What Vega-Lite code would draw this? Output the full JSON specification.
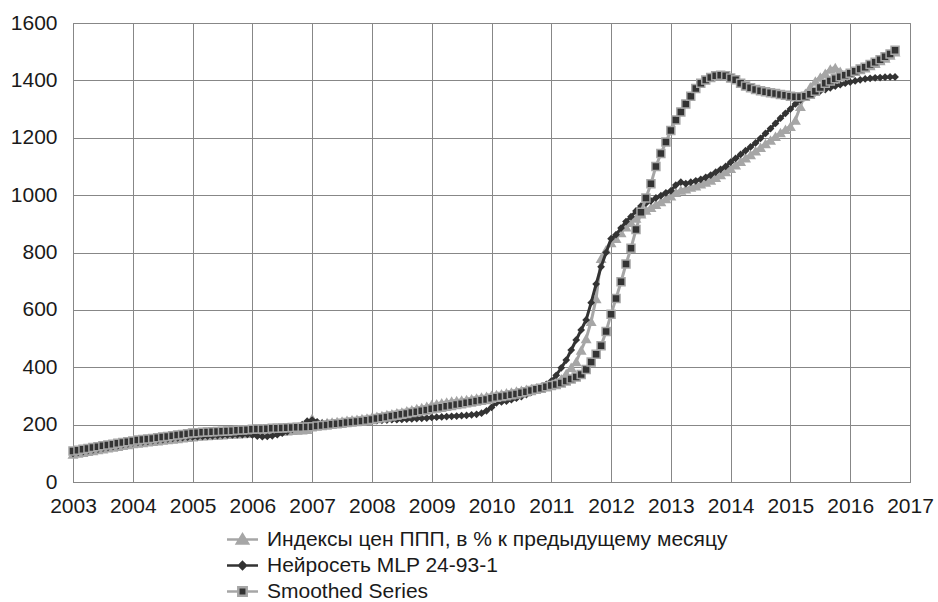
{
"$schema": "https://vega.github.io/schema/vega-lite/v6.json",
"width": 837, "height": 459,
"autosize": {"type": "none"},
"padding": {"left": 73, "top": 23, "right": 28, "bottom": 120},
"background": "white",
"config": {
 "font": "Liberation Sans",
 "view": {"stroke": "#878787", "strokeWidth": 1},
 "axis": {"labelFont": "Liberation Sans", "labelFontSize": 21, "labelColor": "#1a1a1a", "gridColor": "#878787", "gridWidth": 1, "gridOpacity": 1, "domainColor": "#878787", "domainWidth": 1, "ticks": false, "title": null, "labelFlush": false, "labelOverlap": false}
},
"data": {"values": [
{"t":2003,"a":98,"b":100,"c":108},{"t":2003.083,"a":101,"b":103,"c":111},{"t":2003.167,"a":104,"b":106,"c":114},{"t":2003.25,"a":107,"b":109,"c":117},{"t":2003.333,"a":110,"b":112,"c":120},{"t":2003.417,"a":113,"b":115,"c":123},{"t":2003.5,"a":116,"b":118,"c":126},{"t":2003.583,"a":119,"b":121,"c":129},{"t":2003.667,"a":122,"b":124,"c":132},{"t":2003.75,"a":125,"b":127,"c":135},{"t":2003.833,"a":128,"b":130,"c":138},{"t":2003.917,"a":131,"b":133,"c":140},
{"t":2004,"a":134,"b":136,"c":143},{"t":2004.083,"a":136,"b":138,"c":146},{"t":2004.167,"a":138,"b":140,"c":148},{"t":2004.25,"a":140,"b":142,"c":150},{"t":2004.333,"a":142,"b":144,"c":152},{"t":2004.417,"a":144,"b":146,"c":154},{"t":2004.5,"a":146,"b":148,"c":157},{"t":2004.583,"a":148,"b":150,"c":159},{"t":2004.667,"a":150,"b":152,"c":161},{"t":2004.75,"a":152,"b":154,"c":164},{"t":2004.833,"a":154,"b":155,"c":166},{"t":2004.917,"a":156,"b":156,"c":168},
{"t":2005,"a":158,"b":157,"c":171},{"t":2005.083,"a":160,"b":158,"c":172},{"t":2005.167,"a":161,"b":159,"c":173},{"t":2005.25,"a":162,"b":160,"c":174},{"t":2005.333,"a":163,"b":161,"c":175},{"t":2005.417,"a":164,"b":162,"c":176},{"t":2005.5,"a":165,"b":163,"c":177},{"t":2005.583,"a":166,"b":164,"c":178},{"t":2005.667,"a":167,"b":164,"c":179},{"t":2005.75,"a":168,"b":165,"c":180},{"t":2005.833,"a":169,"b":165,"c":181},{"t":2005.917,"a":170,"b":166,"c":182},
{"t":2006,"a":172,"b":164,"c":184},{"t":2006.083,"a":173,"b":160,"c":185},{"t":2006.167,"a":174,"b":158,"c":185},{"t":2006.25,"a":175,"b":159,"c":186},{"t":2006.333,"a":176,"b":161,"c":187},{"t":2006.417,"a":177,"b":165,"c":187},{"t":2006.5,"a":178,"b":170,"c":188},{"t":2006.583,"a":179,"b":176,"c":189},{"t":2006.667,"a":180,"b":183,"c":190},{"t":2006.75,"a":181,"b":190,"c":191},{"t":2006.833,"a":182,"b":200,"c":191},{"t":2006.917,"a":184,"b":212,"c":192},
{"t":2007,"a":222,"b":216,"c":193},{"t":2007.083,"a":203,"b":210,"c":195},{"t":2007.167,"a":205,"b":205,"c":197},{"t":2007.25,"a":207,"b":204,"c":199},{"t":2007.333,"a":209,"b":205,"c":201},{"t":2007.417,"a":211,"b":206,"c":203},{"t":2007.5,"a":213,"b":207,"c":205},{"t":2007.583,"a":215,"b":208,"c":207},{"t":2007.667,"a":217,"b":209,"c":209},{"t":2007.75,"a":219,"b":210,"c":211},{"t":2007.833,"a":221,"b":211,"c":213},{"t":2007.917,"a":223,"b":212,"c":215},
{"t":2008,"a":226,"b":213,"c":218},{"t":2008.083,"a":229,"b":214,"c":221},{"t":2008.167,"a":232,"b":215,"c":224},{"t":2008.25,"a":235,"b":216,"c":227},{"t":2008.333,"a":238,"b":217,"c":230},{"t":2008.417,"a":241,"b":217,"c":233},{"t":2008.5,"a":244,"b":218,"c":236},{"t":2008.583,"a":248,"b":219,"c":239},{"t":2008.667,"a":252,"b":220,"c":242},{"t":2008.75,"a":256,"b":221,"c":245},{"t":2008.833,"a":260,"b":222,"c":248},{"t":2008.917,"a":264,"b":223,"c":251},
{"t":2009,"a":270,"b":225,"c":255},{"t":2009.083,"a":273,"b":226,"c":258},{"t":2009.167,"a":276,"b":227,"c":261},{"t":2009.25,"a":279,"b":228,"c":264},{"t":2009.333,"a":282,"b":229,"c":267},{"t":2009.417,"a":284,"b":230,"c":270},{"t":2009.5,"a":286,"b":231,"c":273},{"t":2009.583,"a":288,"b":232,"c":276},{"t":2009.667,"a":290,"b":234,"c":279},{"t":2009.75,"a":293,"b":236,"c":282},{"t":2009.833,"a":296,"b":240,"c":285},{"t":2009.917,"a":299,"b":248,"c":288},
{"t":2010,"a":302,"b":260,"c":292},{"t":2010.083,"a":305,"b":276,"c":295},{"t":2010.167,"a":308,"b":279,"c":298},{"t":2010.25,"a":311,"b":282,"c":301},{"t":2010.333,"a":314,"b":287,"c":304},{"t":2010.417,"a":317,"b":292,"c":307},{"t":2010.5,"a":320,"b":298,"c":311},{"t":2010.583,"a":323,"b":305,"c":315},{"t":2010.667,"a":326,"b":313,"c":319},{"t":2010.75,"a":329,"b":321,"c":323},{"t":2010.833,"a":332,"b":330,"c":327},{"t":2010.917,"a":336,"b":340,"c":332},
{"t":2011,"a":340,"b":352,"c":336},{"t":2011.083,"a":348,"b":372,"c":340},{"t":2011.167,"a":360,"b":398,"c":345},{"t":2011.25,"a":378,"b":425,"c":352},{"t":2011.333,"a":400,"b":460,"c":359},{"t":2011.417,"a":420,"b":495,"c":366},{"t":2011.5,"a":460,"b":530,"c":375},{"t":2011.583,"a":500,"b":565,"c":392},{"t":2011.667,"a":560,"b":625,"c":418},{"t":2011.75,"a":640,"b":690,"c":445},{"t":2011.833,"a":780,"b":750,"c":475},{"t":2011.917,"a":810,"b":800,"c":525},
{"t":2012,"a":835,"b":848,"c":585},{"t":2012.083,"a":850,"b":862,"c":640},{"t":2012.167,"a":870,"b":885,"c":698},{"t":2012.25,"a":890,"b":908,"c":760},{"t":2012.333,"a":905,"b":925,"c":815},{"t":2012.417,"a":920,"b":945,"c":880},{"t":2012.5,"a":935,"b":962,"c":940},{"t":2012.583,"a":948,"b":972,"c":990},{"t":2012.667,"a":958,"b":980,"c":1040},{"t":2012.75,"a":968,"b":990,"c":1100},{"t":2012.833,"a":978,"b":998,"c":1145},{"t":2012.917,"a":988,"b":1008,"c":1185},
{"t":2013,"a":998,"b":1015,"c":1225},{"t":2013.083,"a":1010,"b":1035,"c":1262},{"t":2013.167,"a":1018,"b":1045,"c":1290},{"t":2013.25,"a":1022,"b":1040,"c":1318},{"t":2013.333,"a":1028,"b":1045,"c":1345},{"t":2013.417,"a":1033,"b":1050,"c":1372},{"t":2013.5,"a":1040,"b":1055,"c":1390},{"t":2013.583,"a":1046,"b":1062,"c":1401},{"t":2013.667,"a":1053,"b":1070,"c":1410},{"t":2013.75,"a":1062,"b":1080,"c":1416},{"t":2013.833,"a":1072,"b":1090,"c":1418},{"t":2013.917,"a":1082,"b":1100,"c":1416},
{"t":2014,"a":1094,"b":1115,"c":1408},{"t":2014.083,"a":1106,"b":1128,"c":1402},{"t":2014.167,"a":1118,"b":1142,"c":1390},{"t":2014.25,"a":1130,"b":1155,"c":1380},{"t":2014.333,"a":1142,"b":1168,"c":1374},{"t":2014.417,"a":1155,"b":1182,"c":1368},{"t":2014.5,"a":1167,"b":1198,"c":1364},{"t":2014.583,"a":1180,"b":1215,"c":1360},{"t":2014.667,"a":1192,"b":1232,"c":1357},{"t":2014.75,"a":1205,"b":1250,"c":1354},{"t":2014.833,"a":1218,"b":1268,"c":1351},{"t":2014.917,"a":1230,"b":1285,"c":1348},
{"t":2015,"a":1240,"b":1300,"c":1345},{"t":2015.083,"a":1262,"b":1318,"c":1343},{"t":2015.167,"a":1310,"b":1332,"c":1343},{"t":2015.25,"a":1355,"b":1342,"c":1345},{"t":2015.333,"a":1378,"b":1350,"c":1352},{"t":2015.417,"a":1398,"b":1357,"c":1362},{"t":2015.5,"a":1412,"b":1363,"c":1375},{"t":2015.583,"a":1425,"b":1368,"c":1390},{"t":2015.667,"a":1440,"b":1374,"c":1398},{"t":2015.75,"a":1445,"b":1380,"c":1406},{"t":2015.833,"a":1432,"b":1385,"c":1413},{"t":2015.917,"a":1420,"b":1390,"c":1418},
{"t":2016,"a":1425,"b":1394,"c":1425},{"t":2016.083,"a":1432,"b":1398,"c":1432},{"t":2016.167,"a":1438,"b":1402,"c":1440},{"t":2016.25,"a":1444,"b":1405,"c":1446},{"t":2016.333,"a":1452,"b":1407,"c":1455},{"t":2016.417,"a":1460,"b":1409,"c":1463},{"t":2016.5,"a":1469,"b":1410,"c":1472},{"t":2016.583,"a":1478,"b":1411,"c":1482},{"t":2016.667,"a":1488,"b":1412,"c":1492},{"t":2016.75,"a":1500,"b":1412,"c":1505}
]},
"encoding": {
 "x": {"field": "t", "type": "quantitative", "scale": {"domain": [2003, 2017], "nice": false, "zero": false}, "axis": {"values": [2003,2004,2005,2006,2007,2008,2009,2010,2011,2012,2013,2014,2015,2016,2017], "format": "d", "grid": true, "labelPadding": 13}}
},
"layer": [
 {"mark": {"type": "line", "strokeWidth": 3, "strokeJoin": "round"},
  "encoding": {
   "y": {"field": "a", "type": "quantitative", "scale": {"domain": [0, 1600], "nice": false}, "axis": {"values": [0,200,400,600,800,1000,1200,1400,1600], "format": "d", "grid": true, "labelPadding": 16}},
   "color": {"datum": "Индексы цен ППП, в % к предыдущему месяцу", "type": "nominal",
    "scale": {"domain": ["Индексы цен ППП, в % к предыдущему месяцу", "Нейросеть MLP 24-93-1", "Smoothed Series"], "range": ["#a6a6a6", "#333333", "#a6a6a6"]},
    "legend": {"orient": "none", "legendX": 158, "legendY": 505, "direction": "vertical", "title": null, "labelFont": "Liberation Sans", "labelFontSize": 21, "labelColor": "#1a1a1a", "labelOffset": 13, "rowPadding": 4, "symbolSize": 400, "symbolStrokeWidth": 2.5, "labelLimit": 700, "padding": 0,
     "encode": {"symbols": {"update": {
      "shape": {"signal": "datum.value === 'Smoothed Series' ? 'M-1.55,0H-0.42M0.42,0H1.55M-0.42,-0.42H0.42V0.42H-0.42Z' : (datum.value === 'Нейросеть MLP 24-93-1' ? 'M-1.55,0H1.55M0,-0.34L0.34,0L0,0.34L-0.34,0Z' : 'M-1.55,0H1.55M-0.55,0.4L0,-0.5L0.55,0.4Z')"},
      "fill": {"signal": "datum.value === 'Индексы цен ППП, в % к предыдущему месяцу' ? '#a6a6a6' : '#333333'"},
      "stroke": {"signal": "datum.value === 'Нейросеть MLP 24-93-1' ? '#333333' : '#a6a6a6'"},
      "strokeWidth": {"value": 2.5},
      "opacity": {"value": 1},
      "fillOpacity": {"value": 1}
     }}}}
   }
  }},
 {"mark": {"type": "point", "shape": "triangle-up", "filled": true, "fill": "#a6a6a6", "size": 120, "opacity": 1},
  "encoding": {"y": {"field": "a", "type": "quantitative"}}},
 {"mark": {"type": "line", "strokeWidth": 3, "strokeJoin": "round"},
  "encoding": {"y": {"field": "b", "type": "quantitative"}, "color": {"datum": "Нейросеть MLP 24-93-1", "type": "nominal"}}},
 {"mark": {"type": "point", "shape": "diamond", "filled": true, "fill": "#333333", "size": 60, "opacity": 1},
  "encoding": {"y": {"field": "b", "type": "quantitative"}}},
 {"mark": {"type": "line", "strokeWidth": 3, "strokeJoin": "round"},
  "encoding": {"y": {"field": "c", "type": "quantitative"}, "color": {"datum": "Smoothed Series", "type": "nominal"}}},
 {"mark": {"type": "point", "shape": "square", "filled": true, "fill": "#333333", "stroke": "#a6a6a6", "strokeWidth": 1.5, "size": 64, "opacity": 1},
  "encoding": {"y": {"field": "c", "type": "quantitative"}}}
]
}
